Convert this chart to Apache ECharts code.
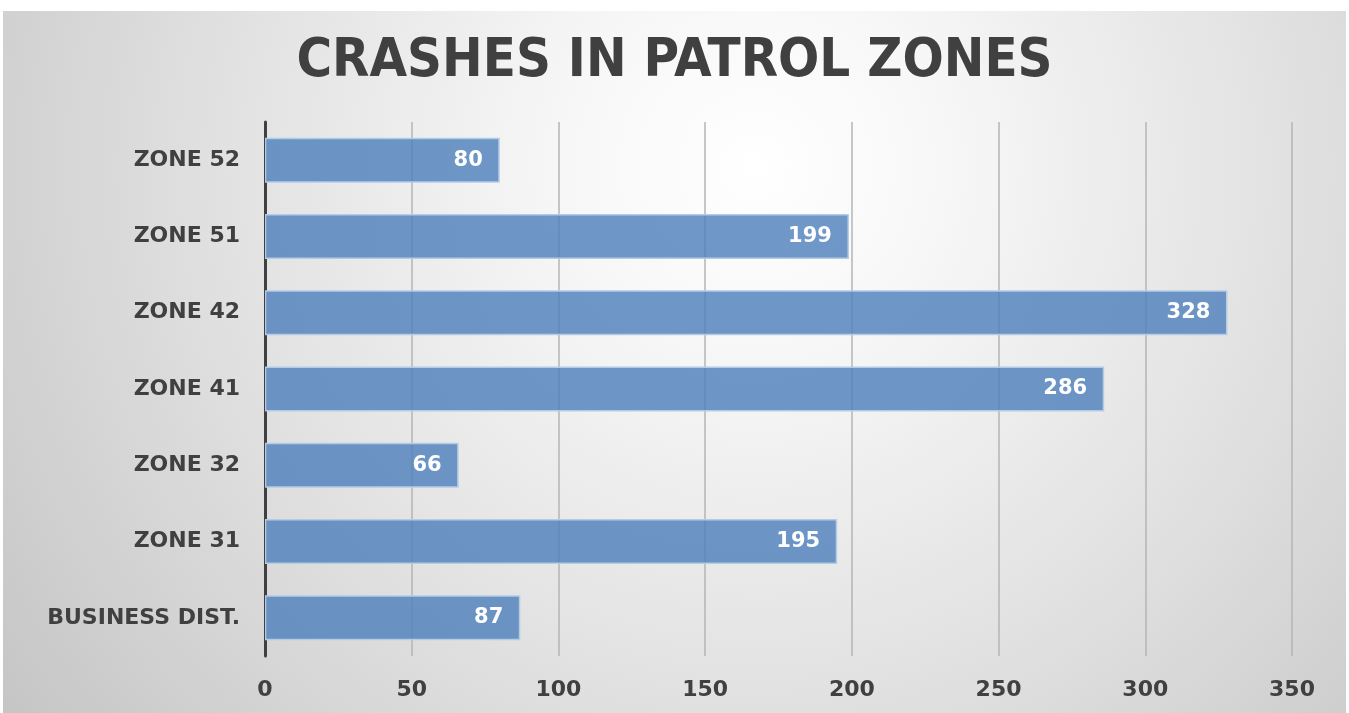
<!DOCTYPE html>
<html>
<head>
<meta charset="utf-8">
<script src="https://cdn.jsdelivr.net/npm/echarts@6/dist/echarts.min.js"></script>
<style>
  html, body { margin: 0; padding: 0; background: #fff; }
  #chart { position: absolute; left: 3px; top: 11px; width: 1343px; height: 702px; }
</style>
</head>
<body>
<div id="chart"></div>
<script>
// bottom-to-top order, as on the chart
const zones = ['BUSINESS DIST.', 'ZONE 31', 'ZONE 32', 'ZONE 41', 'ZONE 42', 'ZONE 51', 'ZONE 52'];
const crashes = [87, 195, 66, 286, 328, 199, 80];
const xTicks = [0, 50, 100, 150, 200, 250, 300, 350];

const textColor = '#404040';
const font = 'DejaVu Sans';

const chart = echarts.init(document.getElementById('chart'));

chart.setOption({
  animation: false,
  backgroundColor: {
    type: 'radial',
    x: 0.56,
    y: 0.22,
    r: 1.35,
    colorStops: [
      { offset: 0, color: '#ffffff' },
      { offset: 0.2, color: '#f7f7f7' },
      { offset: 0.55, color: '#e2e2e2' },
      { offset: 1, color: '#c4c4c4' },
    ],
  },
  title: {
    text: 'CRASHES IN PATROL ZONES',
    left: 'center',
    top: 19,
    textStyle: {
      color: textColor,
      fontFamily: 'DejaVu Sans Condensed',
      fontWeight: 'bold',
      fontSize: 54,
    },
  },
  grid: {
    left: 262,
    right: 54,
    top: 111,
    bottom: 57,
  },
  xAxis: {
    type: 'value',
    min: xTicks[0],
    max: xTicks[xTicks.length - 1],
    interval: 50,
    axisLine: { show: false },
    axisTick: { show: false },
    axisLabel: {
      margin: 23,
      color: textColor,
      fontFamily: font,
      fontWeight: 'bold',
      fontSize: 22,
    },
    splitLine: {
      show: true,
      lineStyle: { color: '#b4b4b4', width: 1.5 },
    },
  },
  yAxis: {
    type: 'category',
    data: zones,
    axisLine: { show: true, lineStyle: { color: textColor, width: 3 } },
    axisTick: { show: false },
    axisLabel: {
      margin: 25,
      color: textColor,
      fontFamily: font,
      fontWeight: 'bold',
      fontSize: 22,
    },
  },
  series: [
    {
      type: 'bar',
      data: crashes,
      barWidth: 45,
      itemStyle: {
        color: 'rgba(79, 129, 189, 0.82)',
        borderColor: '#b4cbe6',
        borderWidth: 1.5,
      },
      label: {
        show: true,
        position: 'insideRight',
        distance: 17,
        color: '#ffffff',
        fontFamily: font,
        fontWeight: 'bold',
        fontSize: 21,
      },
    },
  ],
});
</script>
</body>
</html>
